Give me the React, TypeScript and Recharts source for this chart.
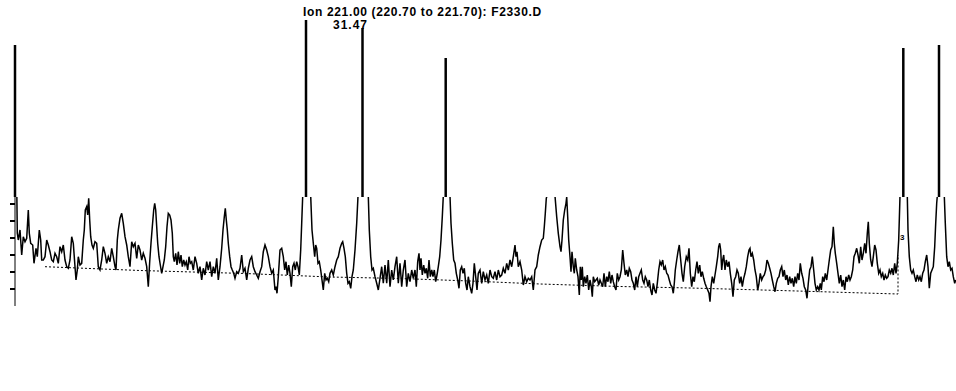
import { LineChart, Line, XAxis, YAxis, ReferenceLine } from "recharts";

// ion trace, [scan, abundance]
const trace: [number, number][] = [
  [15, 2610], [17.3, 727], [18.3, 660], [20, 760], [21.7, 510], [23.3, 693], [25, 643], [26.7, 677],
  [28.3, 960], [29.3, 727], [30.7, 627], [32.7, 610], [34, 427], [36, 577], [37.3, 493], [39.3, 760],
  [40.7, 660], [41.7, 460], [43.3, 460], [45, 493], [46.7, 660], [48.3, 610], [50, 543], [51.7, 460],
  [53.3, 443], [55, 527], [56.7, 493], [58.3, 427], [60, 593], [61.7, 543], [63.3, 610], [65, 460],
  [66.7, 393], [68.3, 377], [70, 460], [71.7, 693], [73.3, 627], [75, 393], [76, 260], [77.3, 360],
  [78.3, 493], [80, 410], [81.7, 427], [83.3, 660], [84.3, 760], [85.3, 960], [86.7, 993], [87.7, 910],
  [88.7, 1077], [89.7, 860], [90.7, 693], [92, 610], [93.3, 577], [95, 643], [96.7, 627], [98.3, 393],
  [100, 360], [101.7, 460], [103.3, 593], [105, 527], [106.7, 427], [108.3, 493], [110, 443], [111.7, 577],
  [113.3, 493], [115, 393], [116, 360], [117.3, 660], [118.3, 760], [120, 877], [121.7, 927], [123.3, 827],
  [125, 693], [126.7, 610], [128.3, 493], [130, 393], [131.7, 643], [133.3, 593], [135, 627], [136.7, 477],
  [138.3, 610], [140, 560], [141.7, 460], [143.3, 527], [145, 477], [146.7, 393], [148.3, 193], [149.7, 443],
  [151, 627], [152.3, 793], [153.7, 960], [154.7, 1027], [155.7, 960], [156.7, 793], [157.7, 627], [159, 493],
  [160.3, 410], [161.7, 327], [163, 393], [164.3, 460], [165.7, 593], [167, 793], [168.3, 927], [169.7, 910],
  [171, 860], [172.3, 727], [173.3, 493], [174.3, 443], [175.7, 527], [177, 410], [178.3, 543], [179.7, 427],
  [181, 510], [182.3, 393], [183.7, 460], [185, 410], [186.3, 443], [187.7, 360], [189, 493], [190.3, 427],
  [191.7, 443], [193.3, 360], [195, 493], [196.7, 427], [198.3, 327], [200, 393], [201.7, 260], [203.3, 377],
  [205, 310], [206.7, 443], [208.3, 360], [210, 443], [211.7, 293], [213.3, 393], [215, 327], [216.7, 477],
  [218.3, 260], [220, 393], [221.7, 577], [223, 760], [224.3, 893], [225.3, 977], [226.3, 860], [227.3, 760],
  [228.3, 627], [229.7, 493], [231, 393], [232.3, 360], [233.7, 327], [235, 277], [236.7, 343], [238.3, 327],
  [240, 377], [241.7, 510], [243.3, 343], [245, 377], [246.7, 260], [248.3, 377], [250, 460], [251.7, 493],
  [253.3, 393], [255, 343], [256.7, 310], [258.3, 277], [260, 343], [261.7, 393], [263.3, 543], [265, 610],
  [266.7, 560], [268.3, 493], [270, 393], [271.7, 327], [273.3, 360], [275, 160], [276, 193], [277, 127],
  [278.3, 293], [280, 560], [281.7, 577], [283.3, 493], [284.7, 360], [286, 443], [287.3, 310], [288.7, 410],
  [290, 327], [291.3, 193], [292.7, 393], [294, 427], [295.3, 360], [296.7, 443], [298, 393], [299.3, 310],
  [300.7, 560], [301.7, 827], [302.7, 1100], [306, 2860], [310.7, 1100], [312, 760], [313.3, 627], [314.7, 493],
  [315.7, 610], [316.7, 577], [318, 427], [319.3, 443], [320.7, 360], [322, 260], [323.3, 160], [324.7, 327],
  [326, 260], [327.3, 277], [328.7, 243], [330, 327], [331.7, 360], [333.3, 310], [335, 393], [336.7, 460],
  [338.3, 493], [340, 577], [341.7, 627], [342.7, 643], [344, 577], [345.3, 493], [346.7, 327], [348, 227],
  [349.3, 243], [350.7, 177], [352, 293], [353.3, 360], [355, 560], [356.7, 827], [358, 1100], [362.5, 2780],
  [368.3, 1100], [369.3, 760], [370.7, 493], [372, 360], [373.3, 377], [375, 293], [376.7, 227], [378.3, 160],
  [380, 277], [381.7, 393], [383.3, 227], [385, 410], [386.7, 227], [388.3, 460], [390, 193], [391.7, 360],
  [393.3, 260], [395, 393], [396.7, 493], [398.3, 227], [400, 427], [401.7, 193], [403.3, 360], [405, 460],
  [406.7, 193], [408.3, 327], [410, 243], [411.7, 360], [413.3, 277], [415, 360], [416.3, 193], [417.7, 443],
  [419, 527], [420, 360], [421, 477], [422.3, 310], [423.7, 410], [425, 327], [426.3, 377], [427.7, 277],
  [429, 460], [430.3, 293], [431.7, 360], [433, 293], [434.3, 360], [435.7, 243], [437, 310], [438.3, 393],
  [439.7, 493], [441, 660], [442.3, 893], [443.3, 1100], [445.7, 2480], [450, 1100], [451, 827], [452.3, 627],
  [453.7, 460], [455, 427], [456.3, 327], [457.7, 260], [459, 177], [460.3, 360], [461.7, 393], [463, 327],
  [464.3, 377], [465.7, 227], [467, 160], [468.3, 293], [470, 193], [471.7, 127], [473, 227], [474.3, 427],
  [475.7, 293], [477, 160], [478.3, 327], [480, 360], [481.7, 227], [483.3, 343], [485, 260], [486.7, 310],
  [488.3, 227], [490, 360], [491.7, 293], [493.3, 277], [495, 343], [496.7, 260], [498.3, 360], [500, 293],
  [501.7, 310], [503.3, 377], [505, 327], [506.7, 427], [508.3, 360], [510, 460], [511.7, 393], [513.3, 493],
  [515, 610], [516, 493], [517, 543], [518.3, 393], [520, 443], [521.7, 360], [523.3, 210], [525, 293],
  [526.7, 243], [528.3, 277], [530, 260], [531.7, 293], [533.3, 160], [535, 360], [536.7, 393], [538.3, 510],
  [540, 593], [541.7, 660], [543.3, 677], [544.3, 793], [545.3, 927], [546.3, 1077], [547, 1100], [550.5, 1250],
  [555, 1100], [556.7, 893], [558.3, 727], [560, 593], [561, 543], [562, 660], [563.3, 860], [564.7, 960],
  [566, 1027], [566.7, 1090], [567.7, 893], [568.7, 660], [570, 493], [571, 343], [572, 543], [573.3, 393],
  [574.3, 327], [575.3, 477], [576.7, 360], [578, 293], [579.3, 110], [580.3, 393], [581.3, 260], [582.3, 393],
  [583.3, 193], [584.7, 293], [586, 227], [587.3, 310], [588.7, 160], [590, 260], [591.3, 193], [592.3, 93],
  [593.3, 293], [594.7, 243], [596, 260], [597.3, 277], [598.7, 210], [600, 260], [601.3, 227], [602.7, 193],
  [604, 327], [605.3, 193], [606.7, 293], [608, 243], [609.3, 343], [610.7, 227], [612, 310], [613.3, 243],
  [614.7, 193], [616, 160], [617.3, 327], [618.7, 260], [620, 293], [621.3, 360], [622.7, 560], [624, 427],
  [625.3, 310], [626.7, 360], [628, 293], [629.3, 377], [630.7, 343], [632, 260], [633.3, 227], [634.7, 160],
  [636, 293], [637.3, 193], [638.7, 293], [640, 327], [641.3, 360], [642.7, 260], [644, 227], [645.3, 293],
  [646.7, 260], [648, 193], [649.3, 260], [650.7, 160], [652, 110], [653.3, 227], [654.7, 160], [656, 127],
  [657.3, 227], [658.7, 360], [660, 443], [661.3, 410], [662.7, 460], [664, 360], [665.3, 393], [666.7, 327],
  [668, 310], [669.3, 260], [670.7, 210], [672, 193], [673.3, 127], [674.3, 227], [675.3, 360], [676.7, 460],
  [678, 543], [679.3, 610], [680.7, 460], [682, 327], [683.3, 243], [684.7, 393], [686.3, 493], [687.7, 460],
  [689, 577], [690.3, 327], [691.7, 193], [693, 293], [694.3, 243], [695.7, 360], [697, 443], [698.3, 327],
  [699.7, 410], [701, 293], [702.3, 343], [703.7, 277], [705, 227], [706.3, 193], [707.7, 160], [709, 127],
  [710, 43], [711, 193], [712.3, 293], [713.7, 227], [715, 310], [716.3, 393], [717.7, 493], [718.7, 593],
  [719.7, 627], [720.7, 560], [721.7, 360], [722.7, 460], [723.7, 510], [725, 360], [726.3, 460], [727.7, 393],
  [729, 443], [730.3, 327], [731.7, 227], [733, 93], [734.3, 260], [735.7, 293], [737, 360], [738.3, 327],
  [739.7, 227], [741, 293], [742.3, 193], [743.7, 277], [745, 327], [746.3, 393], [747.7, 493], [749, 560],
  [750, 577], [751, 493], [752.3, 527], [753.7, 460], [755, 360], [756.3, 293], [757.7, 160], [759, 227],
  [760.3, 327], [761.7, 260], [763, 293], [764.3, 310], [765.7, 360], [767, 460], [768.3, 427], [769.7, 377],
  [771, 327], [772.3, 260], [773.7, 193], [775, 143], [776.3, 227], [777.7, 277], [779, 293], [780.3, 360],
  [781.7, 393], [783, 293], [784.3, 360], [785.7, 260], [787, 310], [788.3, 210], [789.7, 293], [791, 227],
  [792.3, 277], [793.7, 193], [795, 293], [796.3, 227], [797.7, 327], [799, 260], [800.3, 427], [801.7, 327],
  [803, 277], [804.3, 193], [805.7, 160], [807, 77], [808.3, 227], [809.7, 360], [811, 393], [812.3, 493],
  [813.7, 360], [815, 227], [816.3, 160], [817.7, 193], [819, 160], [820.3, 227], [821.3, 160], [822.7, 293],
  [824, 243], [825.3, 327], [826.7, 260], [828, 360], [829.3, 460], [830.7, 560], [832, 593], [833.3, 793],
  [834.3, 627], [835.3, 527], [836.7, 427], [838, 327], [839.3, 227], [840.7, 310], [842, 193], [843.3, 260],
  [844.7, 160], [846, 293], [847.3, 243], [848.7, 310], [850, 260], [851.3, 293], [852.7, 360], [854, 493],
  [855.3, 527], [856.7, 577], [858, 510], [859.3, 427], [860.7, 593], [862, 460], [863.3, 527], [864.7, 627],
  [866, 527], [867.3, 727], [868.3, 843], [869.3, 627], [870.7, 460], [872, 393], [873.3, 493], [874.7, 610],
  [876, 560], [877.3, 427], [878.7, 327], [880, 360], [881.3, 293], [882.7, 327], [884, 260], [885.3, 310],
  [886.7, 277], [888, 293], [889.3, 360], [890.7, 327], [892, 377], [893.3, 310], [894.7, 427], [896, 327],
  [897.3, 427], [898.7, 660], [899.3, 860], [900, 1100], [903.3, 2580], [907.3, 1100], [908, 760], [909.3, 493],
  [910.7, 360], [912, 327], [913.3, 360], [914.7, 293], [916, 243], [917.3, 310], [918.7, 260], [920, 293],
  [921.3, 243], [922.7, 327], [924, 360], [925.3, 443], [926.7, 510], [928, 393], [929.3, 177], [930.7, 327],
  [932, 360], [933.3, 393], [934.7, 593], [935.7, 827], [936.7, 1027], [937.3, 1100], [939, 2610], [944.3, 1100],
  [945.3, 827], [946.7, 493], [948, 393], [949.3, 443], [950.7, 360], [952, 377], [953.3, 293], [954.7, 227],
  [955.7, 260],
];

// integration baseline (dotted), ends with the drop line
const baseline: [number, number][] = [
  [45, 393], [140, 355], [245, 325], [330, 290], [400, 275], [470, 250], [540, 220],
  [620, 195], [690, 180], [780, 155], [898, 120], [898, 510],
];

// off-scale peaks: apex scan and height
const peakScans = [15, 306, 362.5, 445.7, 903.3, 939];
const peakTops = [2610, 2860, 2780, 2480, 2580, 2610];

const yTicks = [170, 340, 510, 680, 850, 1020];
const yMax = 1090;

const titleText = "Ion 221.00 (220.70 to 221.70): F2330.D";
const rtText = "31.47";

const traceData = trace.map(([scan, abundance]) => ({ scan, abundance }));
const baselineData = baseline.map(([scan, abundance]) => ({ scan, abundance }));

const textStyle = {
  position: "absolute" as const,
  fontFamily: "'Liberation Sans', Arial, sans-serif",
  fontWeight: "bold" as const,
  color: "#000",
  whiteSpace: "nowrap" as const,
};

export default function App() {
  return (
    <div style={{ position: "absolute", left: 0, top: 0, width: 956, height: 391, background: "#fff" }}>
      <LineChart width={956} height={391} margin={{ top: 197, right: 0, bottom: 85, left: 0 }}>
        <XAxis type="number" dataKey="scan" domain={[15, 956]} allowDataOverflow hide />
        <YAxis
          type="number"
          domain={[0, yMax]}
          allowDataOverflow
          ticks={yTicks}
          tickFormatter={() => ""}
          width={15}
          tickSize={5}
          tickLine={{ stroke: "#000", strokeWidth: 2 }}
          axisLine={{ stroke: "#000", strokeWidth: 1 }}
        />

        <Line
          data={baselineData}
          dataKey="abundance"
          type="linear"
          stroke="#000"
          strokeWidth={1}
          strokeDasharray="2 2"
          dot={false}
          activeDot={false}
          isAnimationActive={false}
        />

        <Line
          data={traceData}
          dataKey="abundance"
          type="linear"
          stroke="#000"
          strokeWidth={1.5}
          dot={false}
          activeDot={false}
          isAnimationActive={false}
        />

        {peakScans.map((s, i) => (
          <ReferenceLine
            key={s}
            segment={[{ x: s, y: yMax }, { x: s, y: peakTops[i] }]}
            ifOverflow="visible"
            stroke="#000"
            strokeWidth={2.5}
          />
        ))}
      </LineChart>

      <div style={{ ...textStyle, left: 303, top: 6, fontSize: 12, lineHeight: "12px", letterSpacing: 0.65 }}>
        {titleText}
      </div>
      <div style={{ ...textStyle, left: 333, top: 19, fontSize: 12, lineHeight: "12px", letterSpacing: 1 }}>
        {rtText}
      </div>
      <div style={{ ...textStyle, left: 900, top: 234, fontSize: 8, lineHeight: "8px" }}>
        3
      </div>
    </div>
  );
}
